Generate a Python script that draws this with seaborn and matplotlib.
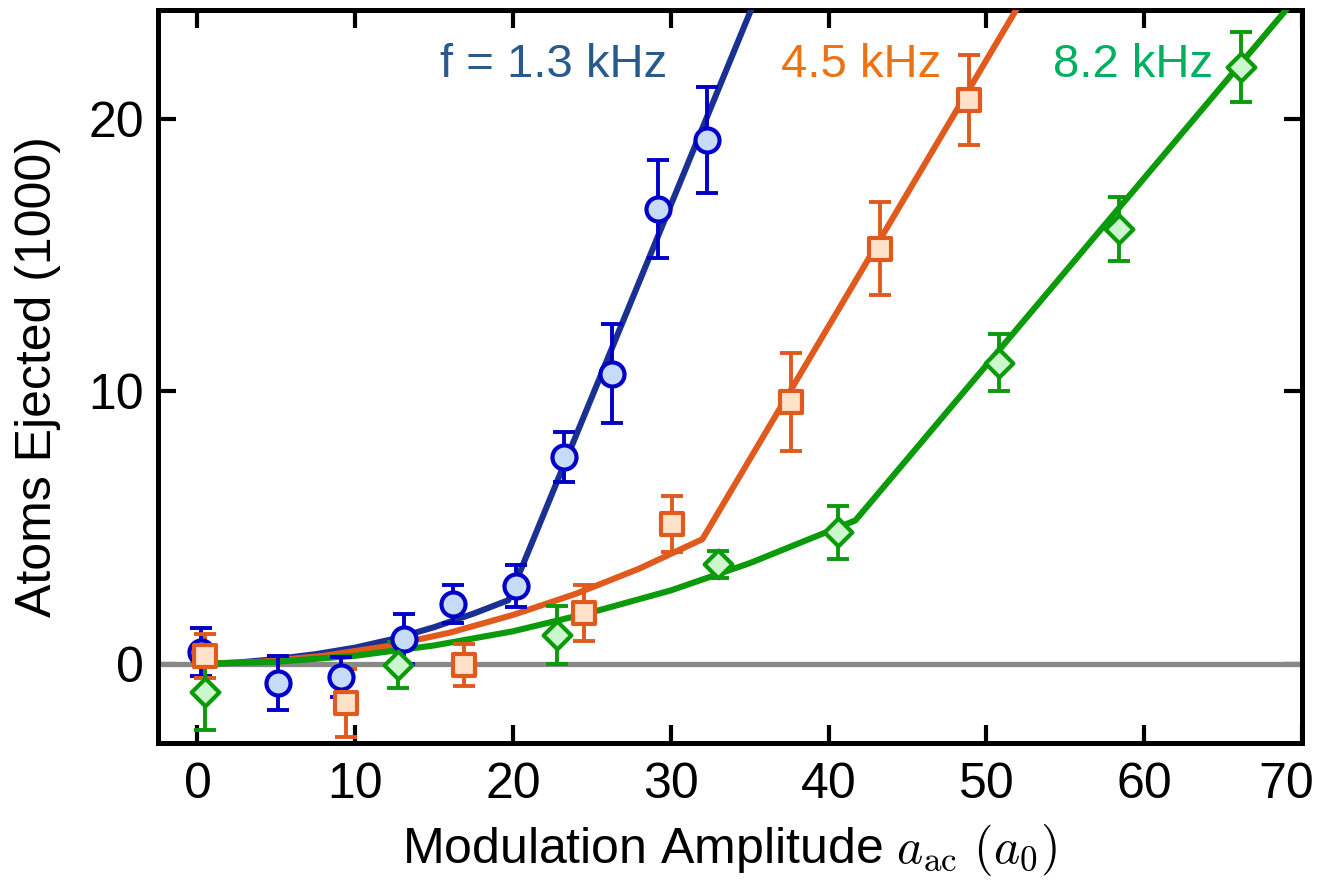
import matplotlib
matplotlib.use("Agg")
import matplotlib.pyplot as plt
import matplotlib.transforms as mtransforms
import seaborn as sns
import pandas as pd

# ---- measured atom loss vs. modulation amplitude ----
x_13 = [0.2, 5.1, 9.1, 13.1, 16.2, 20.2, 23.2, 26.25, 29.2, 32.3]
y_13 = [0.44, -0.70, -0.48, 0.92, 2.2, 2.86, 7.58, 10.66, 16.7, 19.23]
e_13 = [0.88, 1.0, 0.75, 0.92, 0.70, 0.77, 0.92, 1.8, 1.8, 1.93]

x_45 = [0.5, 9.4, 16.9, 24.5, 30.05, 37.6, 43.25, 48.9]
y_45 = [0.3, -1.43, -0.04, 1.87, 5.13, 9.6, 15.24, 20.7]
e_45 = [0.8, 1.25, 0.77, 1.04, 1.03, 1.8, 1.7, 1.65]

x_82 = [0.5, 12.7, 22.8, 33.0, 40.6, 50.8, 58.4, 66.1]
y_82 = [-1.03, -0.04, 1.06, 3.66, 4.84, 11.06, 15.97, 21.9]
e_82 = [1.4, 0.85, 1.06, 0.5, 0.97, 1.06, 1.18, 1.29]

# ---- model curves (quadratic onset, then linear) ----
fit_x_13 = [0, 2.5, 5, 7.5, 10, 12.5, 15, 17.5, 19.7, 36]
fit_y_13 = [0, 0.05, 0.18, 0.36, 0.6, 0.93, 1.35, 1.85, 2.34, 25.3]

fit_x_45 = [0, 4, 8, 12, 16, 20, 24, 28, 32, 53]
fit_y_45 = [0, 0.08, 0.3, 0.65, 1.15, 1.8, 2.58, 3.5, 4.58, 25.1]

fit_x_82 = [0, 5, 10, 15, 20, 25, 30, 35, 41.7, 70]
fit_y_82 = [0, 0.08, 0.3, 0.68, 1.2, 1.9, 2.7, 3.7, 5.27, 24.7]

labels = ["f = 1.3 kHz", "4.5 kHz", "8.2 kHz"]
label_x = [15.4, 37.0, 54.2]
label_y = [21.55, 21.55, 21.55]

x_ticks = [0, 10, 20, 30, 40, 50, 60, 70]
y_ticks = [0, 10, 20]

sns.set_theme(style="white")
plt.rcParams["font.family"] = ["Liberation Sans", "DejaVu Sans"]
plt.rcParams["mathtext.fontset"] = "cm"

fig = plt.figure(figsize=(13.2, 8.8), dpi=100)
ax = fig.add_axes([0.1197, 0.1557, 0.8667, 0.8329])

ax.axhline(0, color="#888888", lw=3.8, zorder=1)

series = [
    dict(x=x_13, y=y_13, e=e_13, fx=fit_x_13, fy=fit_y_13, line="#1b3191",
         edge="#0000c8", face="#c6dbf7", marker="o", s=300, text="#2a5a8c"),
    dict(x=x_45, y=y_45, e=e_45, fx=fit_x_45, fy=fit_y_45, line="#e05a1e",
         edge="#e05a1e", face="#fde1c8", marker="s", s=230, text="#eb7314"),
    dict(x=x_82, y=y_82, e=e_82, fx=fit_x_82, fy=fit_y_82, line="#0a9a0a",
         edge="#0a9a0a", face="#ccf7cc", marker="D", s=200, text="#00b060"),
]

for i, sr in enumerate(series):
    fit_df = pd.DataFrame({"x": sr["fx"], "y": sr["fy"]})
    sns.lineplot(data=fit_df, x="x", y="y", ax=ax, color=sr["line"], lw=4.4,
                 sort=False, estimator=None, zorder=3 + i * 0.1)

for i, sr in enumerate(series):
    ax.errorbar(sr["x"], sr["y"], yerr=sr["e"], fmt="none", ecolor=sr["edge"],
                elinewidth=2.8, capsize=8, capthick=2.8, zorder=4 + i * 0.1)
    pts = pd.DataFrame({"x": sr["x"], "y": sr["y"]})
    sns.scatterplot(data=pts, x="x", y="y", ax=ax, marker=sr["marker"], s=sr["s"],
                    color=sr["face"], edgecolor=sr["edge"], linewidth=3.0,
                    zorder=5 + i * 0.1)
    ax.text(label_x[i], label_y[i], labels[i], color=sr["text"], fontsize=34,
            ha="left", va="baseline", zorder=6)

ax.set_xlim(-2.5, 70)
ax.set_ylim(-2.9, 24)
ax.set_xticks(x_ticks)
ax.set_yticks(y_ticks)

for sp in ax.spines.values():
    sp.set_color("black")
    sp.set_linewidth(3.6)
    sp.set_visible(True)

ax.tick_params(axis="both", which="major", direction="in", length=13, width=3,
               color="black", labelsize=36, labelcolor="black",
               top=True, right=True, bottom=True, left=True)
ax.tick_params(axis="x", pad=14)
ax.tick_params(axis="y", pad=10)

# keep the last x tick label inside the figure
fig.canvas.draw()
last = ax.get_xticklabels()[-1]
last.set_transform(last.get_transform() +
                   mtransforms.ScaledTranslation(-0.16, 0, fig.dpi_scale_trans))

ax.set_xlabel(r"Modulation Amplitude $a_{\mathrm{ac}}\ (a_0)$", fontsize=36,
              color="black", labelpad=10)
ax.set_ylabel("Atoms Ejected (1000)", fontsize=36, color="black", labelpad=20)
ax.grid(False)

fig.savefig("out.png", dpi=100, facecolor="white")
